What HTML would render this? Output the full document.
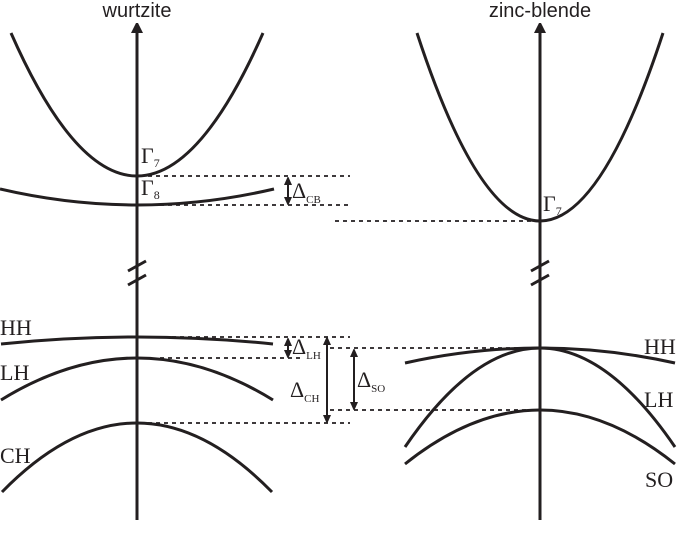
<!DOCTYPE html>
<html><head><meta charset="utf-8"><style>
html,body{margin:0;padding:0;background:#fff;}
svg{display:block;}
.t{font-family:"Liberation Serif",serif;font-size:22px;fill:#231f20;}
.h{font-family:"Liberation Sans",sans-serif;font-size:20px;fill:#231f20;}
</style></head><body>
<svg id="chart" width="678" height="554" viewBox="0 0 678 554" xmlns="http://www.w3.org/2000/svg">
<defs><marker id="ar" markerWidth="10" markerHeight="12" refX="5" refY="6" orient="auto-start-reverse" markerUnits="userSpaceOnUse"><path d="M0,0 L12,6 L0,12 z" fill="#231f20"/></marker>
<marker id="as" markerWidth="8" markerHeight="8" refX="4" refY="4" orient="auto-start-reverse" markerUnits="userSpaceOnUse"><path d="M0,0 L9,4 L0,8 z" fill="#231f20"/></marker></defs>
<g id="g" stroke="#231f20" fill="none"></g>
<text class="h" x="137" y="17" text-anchor="middle">wurtzite</text>
<text class="h" x="540" y="17" text-anchor="middle">zinc-blende</text>
<text class="t" x="141" y="163">Γ<tspan font-size="12" dy="4">7</tspan></text>
<text class="t" x="141" y="195">Γ<tspan font-size="12" dy="4">8</tspan></text>
<text class="t" x="543" y="211">Γ<tspan font-size="12" dy="4">7</tspan></text>
<text class="t" x="292" y="198">Δ<tspan font-size="11" dy="5">CB</tspan></text>
<text class="t" x="292" y="354">Δ<tspan font-size="11" dy="5">LH</tspan></text>
<text class="t" x="290" y="397">Δ<tspan font-size="11" dy="5">CH</tspan></text>
<text class="t" x="357" y="387">Δ<tspan font-size="11" dy="5">SO</tspan></text>
<text class="t" x="0" y="335">HH</text>
<text class="t" x="0" y="380">LH</text>
<text class="t" x="0" y="463">CH</text>
<text class="t" x="644" y="354">HH</text>
<text class="t" x="644" y="407">LH</text>
<text class="t" x="645" y="487">SO</text>
</svg>
<script>
// band data: center x, vertex y, end y, half width
const bandNames=["w-gamma7","w-gamma8","w-hh","w-lh","w-ch","zb-gamma7","zb-hh","zb-lh","zb-so"];
const bandCenter=[137,137,137,137,137,540,540,540,540];
const bandVertex=[176,205,337,358,423,221,348,348,410];
const bandEnd=[33,189,344,400,492,33,363,447,464];
const bandHalf=[126,137,136,136,135,123,135,135,135];
const dashY=[176,205,221,337,358,348,410,423];
const dashX0=[140,160,335,140,160,330,330,140];
const dashX1=[350,350,540,350,300,540,540,350];
const arrowNames=["delta-cb","delta-lh","delta-ch","delta-so"];
const arrowX=[288,288,327,354];
const arrowY0=[177,338,337,349];
const arrowY1=[205,358,423,410];
const g=document.getElementById('g');
const NS="http://www.w3.org/2000/svg";
function mk(t,a){const e=document.createElementNS(NS,t);for(const k in a)e.setAttribute(k,a[k]);g.appendChild(e);return e;}
[137,540].forEach((x,i)=>{
 const l=mk('line',{x1:x,y1:520,x2:x,y2:28,'stroke-width':3,'marker-end':'url(#ar)'});
 
 
 [266,280].forEach(y=>{const b=mk('line',{x1:x-9,y1:y+5,x2:x+9,y2:y-5,'stroke-width':3});
 
 });
});
for(let i=0;i<bandNames.length;i++){
 const c=bandCenter[i],v=bandVertex[i],e=bandEnd[i],h=bandHalf[i];
 const p=mk('path',{d:`M${c-h},${e} Q${c},${2*v-e} ${c+h},${e}`,'stroke-width':3});
 
 
}
for(let i=0;i<dashY.length;i++){
 const d=mk('line',{x1:dashX0[i],y1:dashY[i],x2:dashX1[i],y2:dashY[i],'stroke-width':1.8,'stroke-dasharray':'4,4'});
 
 
}
for(let i=0;i<arrowNames.length;i++){
 const a=mk('line',{x1:arrowX[i],y1:arrowY0[i]+4,x2:arrowX[i],y2:arrowY1[i]-4,'stroke-width':2,'marker-start':'url(#as)','marker-end':'url(#as)'});
 
 
}
</script>
</body></html>
